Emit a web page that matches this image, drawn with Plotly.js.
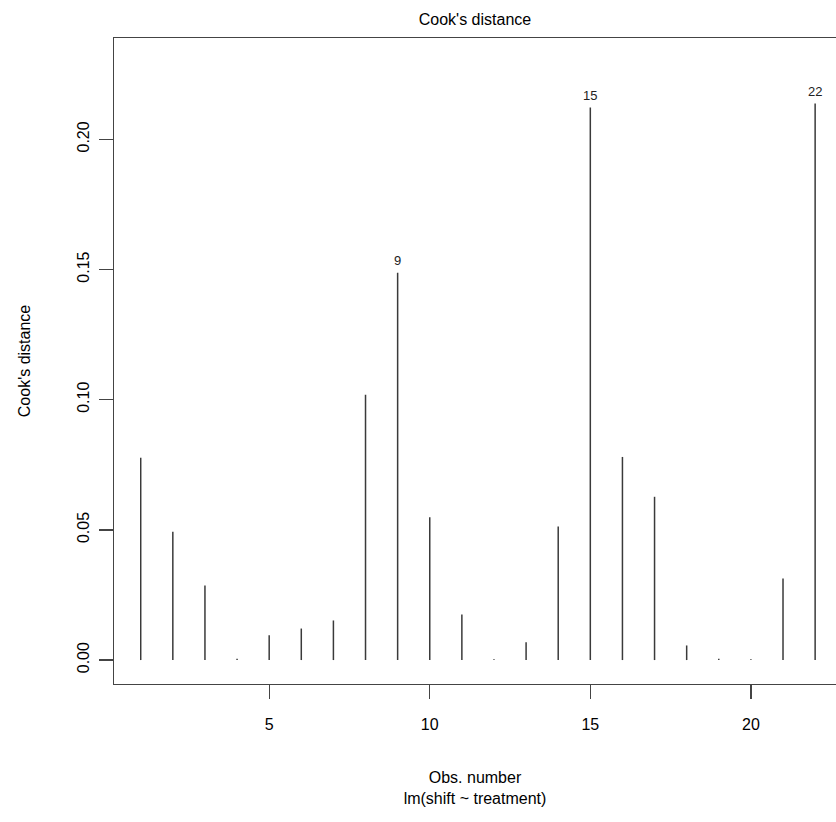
<!DOCTYPE html>
<html>
<head>
<meta charset="utf-8">
<script src="https://cdn.plot.ly/plotly-3.0.1.min.js"></script>
<style>html,body{margin:0;padding:0;background:#fff;overflow:hidden}</style>
</head>
<body>
<div id="chart" style="width:836px;height:822px"></div>
<script>
var obs = [1,2,3,4,5,6,7,8,9,10,11,12,13,14,15,16,17,18,19,20,21,22];
var cooks = [0.0777,0.0493,0.0286,0.0005,0.0095,0.0121,0.0152,0.1019,0.1487,0.0548,0.0175,0.0003,0.0068,0.0513,0.2122,0.0780,0.0627,0.0056,0.0005,0.0003,0.0313,0.2137];
var labelledObs = [9,15,22];
var xTicks = [5,10,15,20];
var yTicks = [0,0.05,0.10,0.15,0.20];
var yTickText = ["0.00","0.05","0.10","0.15","0.20"];

// build vertical segments (type = "h")
var segX = [], segY = [];
for (var i = 0; i < obs.length; i++) {
  segX.push(obs[i], obs[i], null);
  segY.push(0, cooks[i], null);
}
var fam = "Liberation Sans, Arial, sans-serif";
var annots = labelledObs.map(function(o){
  var idx = obs.indexOf(o);
  return {x: o, y: cooks[idx], xref: "x", yref: "y", text: String(o),
          showarrow: false, yanchor: "bottom", yshift: 3,
          font: {family: fam, size: 13, color: "#222"}};
});

var traces = [
  {x: segX, y: segY, type: "scatter", mode: "lines",
   line: {color: "#3a3a3a", width: 1.5}, hoverinfo: "skip", showlegend: false}
];

var layout = {
  width: 836, height: 822,
  margin: {l: 114, r: 0, t: 38, b: 138},
  paper_bgcolor: "#fff", plot_bgcolor: "#fff",
  showlegend: false,
  annotations: annots,
  title: {text: "Cook's distance", font: {family: fam, size: 16, color: "#000"},
          x: 0.5, xref: "paper", y: 1 - 19/822, yref: "container", yanchor: "middle"},
  xaxis: {
    range: [0.168, 22.65], showgrid: false, zeroline: false,
    showline: true, mirror: true, linecolor: "#444", linewidth: 1.3,
    tickmode: "array", tickvals: xTicks, ticktext: xTicks.map(String),
    ticks: "outside", ticklen: 14, tickcolor: "#444", tickwidth: 1.3,
    ticklabelstandoff: 11,
    tickfont: {family: fam, size: 16, color: "#000"},
    title: {text: "Obs. number<br>lm(shift ~ treatment)", standoff: 40,
            font: {family: fam, size: 16, color: "#000"}}
  },
  yaxis: {
    range: [-0.0092, 0.2389], showgrid: false, zeroline: false,
    showline: true, mirror: false, linecolor: "#444", linewidth: 1.3,
    tickmode: "array", tickvals: yTicks, ticktext: yTickText,
    ticks: "outside", ticklen: 14, tickcolor: "#444", tickwidth: 1.3,
    tickangle: -90, ticklabelstandoff: 3,
    tickfont: {family: fam, size: 16, color: "#000"},
    title: {text: "Cook's distance", standoff: 40,
            font: {family: fam, size: 16, color: "#000"}}
  }
};

Plotly.newPlot("chart", traces, layout, {displayModeBar: false, staticPlot: true});
</script>
</body>
</html>
